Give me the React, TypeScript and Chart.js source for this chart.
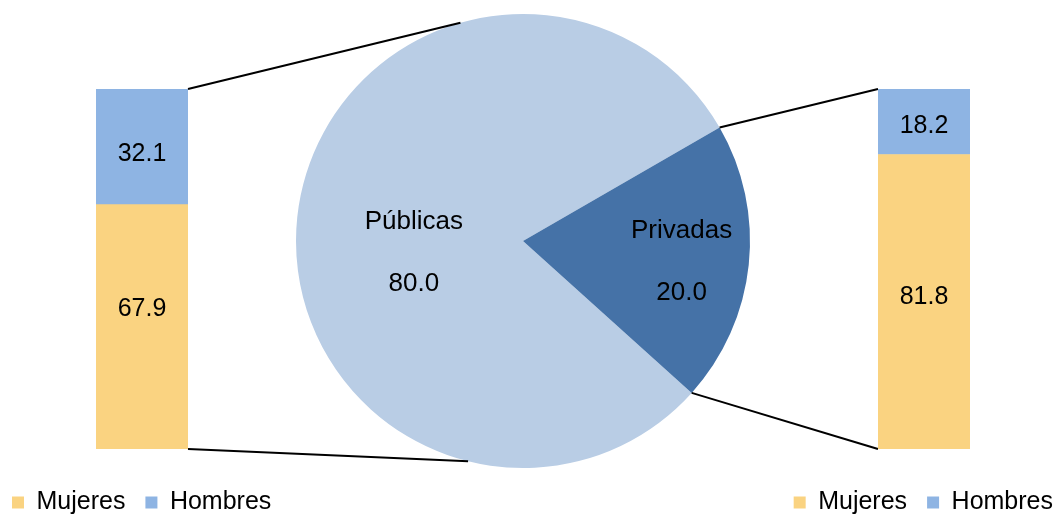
import React, { useEffect, useRef } from 'react';
import { Chart, registerables } from 'chart.js';

Chart.register(...registerables);

// ---- data ----
const pieLabels = ['Públicas', 'Privadas'];
const pieValues = [80.0, 20.0];
const barCategories = ['Mujeres', 'Hombres'];
const publicasValues = [67.9, 32.1];
const privadasValues = [81.8, 18.2];

// ---- styles ----
const FONT = "'Liberation Sans', Arial, Helvetica, sans-serif";
const PIE_COLORS = ['#B9CDE5', '#4572A7'];
const BAR_COLORS = ['#FAD381', '#8EB4E3'];
const LEFT_OFF = -8;
const RIGHT_OFF = 668;
const BAR_CANVAS_H = 525;
// label anchors inside pie slices (degrees, fraction of radius)
const pieLabelAnchors = [
  { angle: 174.3, frac: 0.483 },
  { angle: 7.2, frac: 0.704 },
];
// where the left connector lines meet the pie (degrees)
const leftConnectorAngles = [-106, 104];

const barValueLabels = {
  id: 'barValueLabels',
  afterDatasetsDraw(chart: any, _args: any, opts: any) {
    const ctx = chart.ctx;
    ctx.save();
    ctx.font = `25px ${FONT}`;
    ctx.fillStyle = '#000';
    ctx.textAlign = 'center';
    ctx.textBaseline = 'middle';
    chart.data.datasets.forEach((ds: any, i: number) => {
      const meta = chart.getDatasetMeta(i);
      meta.data.forEach((el: any, j: number) => {
        const v = ds.data[j] as number;
        const shift = (opts && opts.shift && opts.shift[i]) || 0;
        ctx.fillText(v.toFixed(1), el.x, (el.y + el.base) / 2 + shift);
      });
    });
    ctx.restore();
  },
};

function makeBar(canvas: HTMLCanvasElement, values: number[], leftW: number, rightW: number, align: 'start' | 'end', shift: number[]) {
  const hidden = { ticks: { display: false }, grid: { display: false }, border: { display: false } };
  return new Chart(canvas, {
    type: 'bar',
    data: {
      labels: [''],
      datasets: barCategories.map((name, i) => ({
        label: name,
        data: [values[i]],
        backgroundColor: BAR_COLORS[i],
        borderColor: BAR_COLORS[i],
        borderWidth: 0,
        barPercentage: 1,
        categoryPercentage: 1,
      })),
    },
    options: {
      responsive: false,
      animation: false,
      devicePixelRatio: 1,
      events: [],
      layout: { padding: { top: 89, left: 0, right: 0, bottom: 0 } },
      plugins: {
        legend: {
          position: 'bottom',
          align,
          labels: {
            boxWidth: 12,
            boxHeight: 12,
            padding: 20,
            color: '#000',
            font: { family: FONT, size: 25 },
          },
        },
        tooltip: { enabled: false },
        barValueLabels: { shift },
      } as any,
      scales: {
        x: { stacked: true, display: true, ...hidden, afterFit: (s: any) => { s.height = 21; } },
        y: { stacked: true, min: 0, max: 100, position: 'left', display: true, ...hidden, afterFit: (s: any) => { s.width = leftW; } },
        y2: { type: 'linear', position: 'right', display: true, ...hidden, afterFit: (s: any) => { s.width = rightW; } },
      } as any,
    },
    plugins: [barValueLabels],
  });
}

export default function App() {
  const pieRef = useRef<HTMLCanvasElement>(null);
  const leftRef = useRef<HTMLCanvasElement>(null);
  const rightRef = useRef<HTMLCanvasElement>(null);

  useEffect(() => {
    if (!pieRef.current || !leftRef.current || !rightRef.current) return;
    const leftChart = makeBar(leftRef.current, publicasValues, 104, 204, 'start', [-17.5, 7]);
    const rightChart = makeBar(rightRef.current, privadasValues, 210, 103, 'end', [-5, 4]);

    const pieLabelPlugin = {
      id: 'pieLabelText',
      afterDatasetsDraw(chart: any) {
        const ctx = chart.ctx;
        const arcs = chart.getDatasetMeta(0).data;
        ctx.save();
        ctx.font = `26px ${FONT}`;
        ctx.fillStyle = '#000';
        ctx.textAlign = 'center';
        ctx.textBaseline = 'middle';
        arcs.forEach((arc: any, i: number) => {
          const a = (pieLabelAnchors[i].angle * Math.PI) / 180;
          const rr = arc.outerRadius * pieLabelAnchors[i].frac;
          const x = arc.x + rr * Math.cos(a);
          const y = arc.y + rr * Math.sin(a) + 1;
          ctx.fillText(String(chart.data.labels[i]), x, y - 31);
          ctx.fillText((chart.data.datasets[0].data[i] as number).toFixed(1), x, y + 31);
        });
        ctx.restore();
      },
    };

    const connectorPlugin = {
      id: 'connectors',
      afterDraw(chart: any) {
        const ctx = chart.ctx;
        const arcs = chart.getDatasetMeta(0).data as any[];
        const cx = arcs[0].x, cy = arcs[0].y, r = arcs[0].outerRadius;
        const pt = (a: number) => [cx + r * Math.cos(a), cy + r * Math.sin(a)];
        const lTop: any = leftChart.getDatasetMeta(1).data[0];
        const lBot: any = leftChart.getDatasetMeta(0).data[0];
        const rTop: any = rightChart.getDatasetMeta(1).data[0];
        const rBot: any = rightChart.getDatasetMeta(0).data[0];
        const priv = arcs[1];
        const segs: number[][] = [
          [lTop.x + lTop.width / 2 + LEFT_OFF, lTop.y, ...pt((leftConnectorAngles[0] * Math.PI) / 180)],
          [lBot.x + lBot.width / 2 + LEFT_OFF, lBot.base, ...pt((leftConnectorAngles[1] * Math.PI) / 180)],
          [...pt(priv.startAngle), rTop.x - rTop.width / 2 + RIGHT_OFF, rTop.y],
          [...pt(priv.endAngle), rBot.x - rBot.width / 2 + RIGHT_OFF, rBot.base],
        ];
        ctx.save();
        ctx.strokeStyle = '#000';
        ctx.lineWidth = 2;
        segs.forEach((s) => {
          ctx.beginPath();
          ctx.moveTo(s[0], s[1]);
          ctx.lineTo(s[2], s[3]);
          ctx.stroke();
        });
        ctx.restore();
      },
    };

    const pieChart = new Chart(pieRef.current, {
      type: 'pie',
      data: {
        labels: pieLabels,
        datasets: [
          {
            data: pieValues,
            backgroundColor: PIE_COLORS,
            borderWidth: 0,
            hoverOffset: 0,
            offset: 0,
          },
        ],
      },
      options: {
        responsive: false,
        animation: false,
        devicePixelRatio: 1,
        events: [],
        rotation: 132,
        layout: { padding: { left: 296, right: 310, top: 14, bottom: 48 } },
        plugins: { legend: { display: false }, tooltip: { enabled: false } },
      },
      plugins: [pieLabelPlugin, connectorPlugin],
    });

    return () => {
      pieChart.destroy();
      leftChart.destroy();
      rightChart.destroy();
    };
  }, []);

  return (
    <div style={{ position: 'absolute', left: 0, top: 0, width: 1060, height: 516, overflow: 'hidden', background: '#fff' }}>
      <canvas ref={pieRef} width={1060} height={516} style={{ position: 'absolute', left: 0, top: 0, width: 1060, height: 516 }} />
      <canvas ref={leftRef} width={400} height={BAR_CANVAS_H} style={{ position: 'absolute', left: LEFT_OFF, top: 0, width: 400, height: BAR_CANVAS_H }} />
      <canvas ref={rightRef} width={405} height={BAR_CANVAS_H} style={{ position: 'absolute', left: RIGHT_OFF, top: 0, width: 405, height: BAR_CANVAS_H }} />
    </div>
  );
}
